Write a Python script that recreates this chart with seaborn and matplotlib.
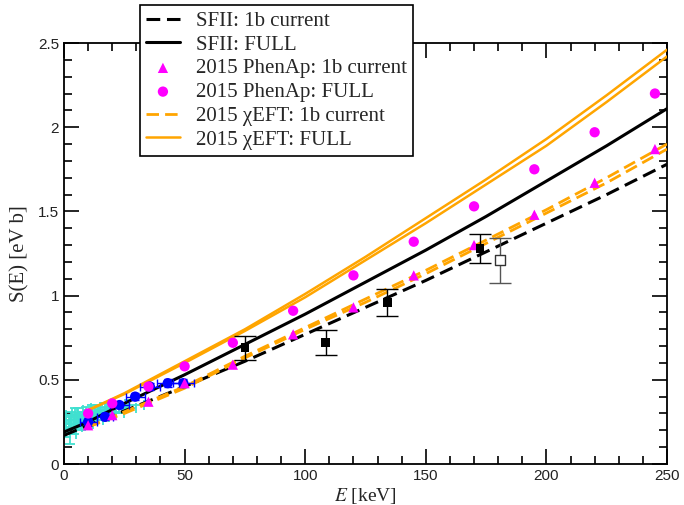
import numpy as np
import pandas as pd
import matplotlib
matplotlib.use("Agg")
import matplotlib.pyplot as plt
import seaborn as sns
from matplotlib.ticker import MultipleLocator

# ---------------- data ----------------
E_sfii = [0, 10, 25, 50, 75, 100, 125, 150, 175, 200, 225, 250]
sfii_full = [0.19, 0.25, 0.36, 0.53, 0.71, 0.89, 1.08, 1.27, 1.47, 1.68, 1.89, 2.11]
sfii_1b = [0.17, 0.23, 0.315, 0.46, 0.61, 0.77, 0.93, 1.09, 1.26, 1.43, 1.60, 1.78]

E_xeft = [10, 25, 50, 75, 100, 125, 150, 175, 200, 225, 250]
xeft_full_hi = [0.32, 0.42, 0.61, 0.80, 1.01, 1.23, 1.46, 1.69, 1.93, 2.19, 2.46]
xeft_full_lo = [0.32, 0.415, 0.60, 0.79, 0.99, 1.21, 1.43, 1.66, 1.89, 2.15, 2.42]
xeft_1b_hi = [0.22, 0.31, 0.46, 0.64, 0.81, 0.98, 1.15, 1.33, 1.51, 1.70, 1.90]
xeft_1b_lo = [0.22, 0.30, 0.45, 0.63, 0.80, 0.96, 1.13, 1.31, 1.49, 1.67, 1.87]

E_phen = [10, 20, 35, 50, 70, 95, 120, 145, 170, 195, 220, 245]
phen_full = [0.30, 0.36, 0.46, 0.58, 0.72, 0.91, 1.12, 1.32, 1.53, 1.75, 1.97, 2.20]
phen_1b = [0.23, 0.29, 0.37, 0.48, 0.59, 0.77, 0.93, 1.12, 1.30, 1.48, 1.67, 1.87]

# experimental data
E_cyan = [1.0, 2.0, 2.5, 3.0, 4.0, 4.5, 5.5, 6.0, 7.0, 8.0, 9.0, 10.0, 11.5, 12.5, 14.0, 15.5, 17.0, 19.0, 21.0, 24.0, 27.0]
S_cyan = [0.21, 0.24, 0.18, 0.26, 0.22, 0.28, 0.25, 0.29, 0.24, 0.27, 0.30, 0.26, 0.31, 0.28, 0.32, 0.29, 0.33, 0.30, 0.34, 0.33, 0.35]
Ex_cyan = [1.0, 2.0, 2.5, 3.0, 3.5, 4.0, 4.5, 5.0, 5.0, 5.5, 5.5, 6.0, 6.0, 6.0, 6.0, 6.0, 6.0, 6.0, 6.0, 6.0, 6.0]
Sy_cyan = [0.05, 0.05, 0.06, 0.05, 0.04, 0.05, 0.04, 0.04, 0.04, 0.04, 0.04, 0.03, 0.04, 0.03, 0.03, 0.03, 0.03, 0.03, 0.03, 0.03, 0.03]

E_blue = [10, 17, 23, 29.5, 35.6, 43, 49.5]
S_blue = [0.25, 0.28, 0.35, 0.40, 0.46, 0.48, 0.48]
Ex_blue = [3.5, 3.5, 4, 4, 4, 4.5, 4.5]
Sy_blue = [0.025, 0.02, 0.02, 0.02, 0.02, 0.025, 0.025]

E_sq = [75, 108.5, 134, 172.5]
S_sq = [0.69, 0.72, 0.96, 1.28]
Sy_sq = [0.07, 0.075, 0.08, 0.085]

E_open = [180.8]
S_open = [1.21]
Sy_open = [0.135]

# ---------------- style ----------------
sns.set_style("ticks")
plt.rcParams['font.family'] = ['Liberation Serif', 'DejaVu Serif']
plt.rcParams['mathtext.fontset'] = 'stix'

fig = plt.figure(figsize=(6.84, 5.05), dpi=100)
ax = fig.add_axes([64/684, 1-464/505, (667-64)/684, (464-43)/505])

orange = '#FFA500'
magenta = '#FF00FF'

# experimental points
ax.errorbar(E_cyan, S_cyan, xerr=Ex_cyan, yerr=Sy_cyan, fmt='none',
            ecolor='#40E0D0', elinewidth=1.3, capsize=3.5, capthick=1.3, zorder=2)
ax.errorbar(E_blue, S_blue, xerr=Ex_blue, yerr=Sy_blue, fmt='none',
            ecolor='#0000FF', elinewidth=1.0, capsize=3, capthick=1.0, zorder=6)
sns.scatterplot(x=E_blue, y=S_blue, ax=ax, color='#0000FF', marker='o', s=55,
                edgecolor='none', zorder=7)

# theory lines
sns.lineplot(x=E_sfii, y=sfii_1b, ax=ax, color='black', lw=2.2,
             label='SFII: 1b current', zorder=3).lines[-1].set_dashes((4.5, 2.2))
sns.lineplot(x=E_sfii, y=sfii_full, ax=ax, color='black', lw=2.2,
             label='SFII: FULL', zorder=3)
sns.scatterplot(x=E_phen, y=phen_1b, ax=ax, color=magenta, marker='^', s=55,
                edgecolor='none', label='2015 PhenAp: 1b current', zorder=8)
sns.scatterplot(x=E_phen, y=phen_full, ax=ax, color=magenta, marker='o', s=55,
                edgecolor='none', label='2015 PhenAp: FULL', zorder=8)
sns.lineplot(x=E_xeft, y=xeft_1b_hi, ax=ax, color=orange, lw=2.0,
             label='2015 χEFT: 1b current', zorder=4).lines[-1].set_dashes((4.5, 2.2))
sns.lineplot(x=E_xeft, y=xeft_1b_lo, ax=ax, color=orange, lw=2.0,
             zorder=4).lines[-1].set_dashes((4.5, 2.2))
sns.lineplot(x=E_xeft, y=xeft_full_hi, ax=ax, color=orange, lw=1.8,
             label='2015 χEFT: FULL', zorder=4)
sns.lineplot(x=E_xeft, y=xeft_full_lo, ax=ax, color=orange, lw=1.8, zorder=4)

# squares with error bars
ax.errorbar(E_sq, S_sq, yerr=Sy_sq, fmt='none', ecolor='black', elinewidth=1.0,
            capsize=8, capthick=1.0, zorder=9)
sns.scatterplot(x=E_sq, y=S_sq, ax=ax, color='black', marker='s', s=40,
                edgecolor='none', zorder=10)
ax.errorbar(E_open, S_open, yerr=Sy_open, fmt='none', ecolor='#555555', elinewidth=1.0,
            capsize=8, capthick=1.0, zorder=9)
ax.scatter(E_open, S_open, marker='s', s=45, facecolor='white', edgecolor='#333333',
           linewidth=1.0, zorder=10)

# axes
ax.set_xlim(0, 250)
ax.set_ylim(0, 2.5)
ax.xaxis.set_major_locator(MultipleLocator(50))
ax.xaxis.set_minor_locator(MultipleLocator(10))
ax.yaxis.set_major_locator(MultipleLocator(0.5))
ax.yaxis.set_minor_locator(MultipleLocator(0.1))
ax.set_yticks([0, 0.5, 1, 1.5, 2, 2.5])
ax.set_yticklabels(['0', '0.5', '1', '1.5', '2', '2.5'])
ax.tick_params(which='both', direction='in', top=True, right=True, width=1.2,
               labelsize=11, colors='black')
ax.tick_params(which='major', length=11)
ax.tick_params(which='minor', length=5.5)
for lab in ax.get_xticklabels() + ax.get_yticklabels():
    lab.set_family(['Liberation Sans', 'DejaVu Sans'])
    lab.set_color('#222222')
for sp in ax.spines.values():
    sp.set_linewidth(1.3)
    sp.set_color('black')

ax.set_xlabel(r'$E$ [keV]', fontsize=14, labelpad=2)
ax.set_ylabel('S(E) [eV b]', fontsize=15, labelpad=6)

# legend
handles, labels = ax.get_legend_handles_labels()
leg = ax.legend(handles, labels, loc='upper left',
                bbox_to_anchor=(140/684, 1-5/505), bbox_transform=fig.transFigure,
                borderaxespad=0, fontsize=15, frameon=True, fancybox=False,
                labelspacing=0.2, handlelength=1.6, handletextpad=0.8,
                borderpad=0.3, framealpha=1)
leg.get_frame().set_edgecolor('black')
leg.get_frame().set_linewidth(1.2)
leg.set_zorder(20)

fig.savefig('out.png', dpi=100)
